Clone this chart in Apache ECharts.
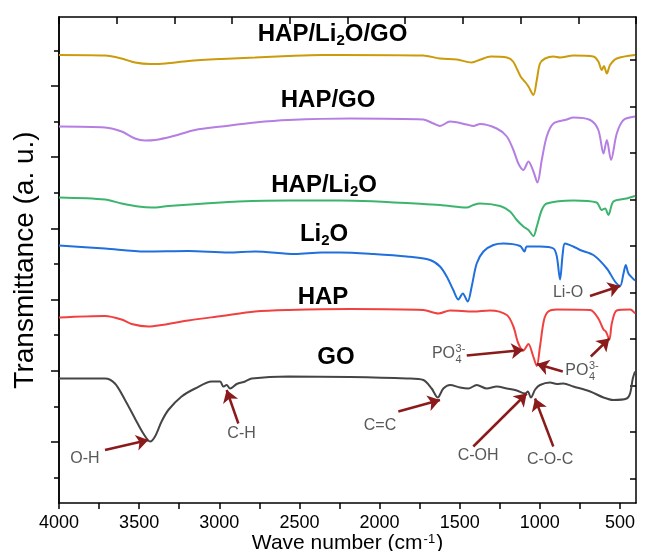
<!DOCTYPE html>
<html><head><meta charset="utf-8">
<script src="https://cdn.jsdelivr.net/npm/echarts@6/dist/echarts.min.js"></script>
<style>html,body{margin:0;padding:0;background:#fff}#c{width:649px;height:551px}</style>
</head><body><div id="c"></div>
<script>
// ---- tick labels (wave number, cm-1) ----
const xTickLabels = [4000, 3500, 3000, 2500, 2000, 1500, 1000, 500];
const xTicks = [4000, 3750, 3500, 3250, 3000, 2750, 2500, 2250, 2000, 1750, 1500, 1250, 1000, 750, 500];

// ---- spectra: [wave number, transmittance (a.u., offset)] ----
const hapLi2oGo = [[4000,89.6],[3713,89.5],[3609,88.9],[3526,88.1],[3429,87.8],[3335,87.9],[3192,88.4],[2985,88.8],[2777,89.1],[2571,89.4],[2361,89.6],[2247,89.6],[1729,89.5],[1623,88.9],[1518,88.7],[1425,88.1],[1370,88.7],[1307,89.3],[1206,89.1],[1167,88.3],[1120,85.3],[1089,84.1],[1071,83.3],[1040,81.6],[1019,84.6],[999,87.9],[967,88.9],[915,89.3],[874,89.1],[791,89.5],[666,89.3],[635,88.3],[614,86.6],[600,87.4],[582,85.9],[562,87.6],[520,88.9],[406,89.6]];
const hapGo = [[4000,75.3],[3713,75.1],[3609,74.3],[3526,72.9],[3463,72.5],[3401,72.6],[3297,73.3],[3151,74.6],[2985,75.3],[2777,76.1],[2569,76.6],[2184,76.9],[1727,76.7],[1664,75.9],[1623,75.4],[1560,76.3],[1456,75.7],[1415,75.4],[1373,75.8],[1269,74.9],[1206,73.3],[1165,70.6],[1134,67.9],[1103,66.6],[1071,68.3],[1040,66.3],[1015,64.1],[988,68.6],[957,73.3],[915,75.9],[832,76.7],[791,77.1],[686,76.6],[635,74.6],[603,69.9],[582,72.6],[556,68.6],[520,73.9],[478,76.6],[406,77.3]];
const hapLi2o = [[4000,61.1],[3713,60.7],[3609,59.9],[3505,59.3],[3422,59.1],[3318,59.4],[3089,59.9],[2880,60.3],[2569,60.5],[2247,60.5],[1623,59.6],[1456,59.1],[1415,59.6],[1373,59.9],[1248,59.4],[1186,58.3],[1144,56.6],[1103,55.3],[1071,54.6],[1040,53.4],[1019,55.3],[988,58.6],[957,59.9],[791,60.5],[646,60.1],[614,58.6],[593,58.9],[572,57.6],[541,60.3],[458,60.9],[406,61.4]];
const li2o = [[4000,51.5],[3713,50.9],[3463,50.3],[3193,50.4],[2943,50.1],[2777,50.3],[2527,49.8],[2361,50.1],[2247,50.1],[2039,49.8],[1830,49.3],[1685,48.6],[1623,47.3],[1581,45.3],[1540,42.6],[1508,40.7],[1481,41.9],[1450,40.3],[1425,43.3],[1394,47.9],[1352,50.3],[1290,51.6],[1227,51.9],[1123,51.4],[1096,50.3],[1081,51.3],[999,51.3],[915,50.9],[894,49.3],[874,44.7],[857,49.9],[843,51.9],[791,51.3],[749,50.6],[666,49.6],[582,46.9],[531,44.3],[499,43.4],[478,45.9],[464,47.6],[447,45.9],[406,44.5]];
const hap = [[4000,37.1],[3713,37.4],[3609,36.7],[3547,35.8],[3443,35.3],[3360,35.6],[3193,36.5],[2985,37.4],[2777,38.3],[2569,38.6],[2184,38.8],[1727,38.6],[1633,37.9],[1560,38.5],[1415,38.3],[1311,38.5],[1206,37.6],[1165,35.3],[1134,31.9],[1103,30.5],[1071,31.8],[1044,29.6],[1019,27.4],[999,31.3],[974,36.6],[947,38.3],[894,38.7],[686,38.6],[635,36.9],[603,34.7],[588,34.3],[566,32.7],[551,35.9],[520,38.5],[437,38.7],[406,37.9]];
const go = [[4000,24.9],[3713,24.9],[3651,23.9],[3588,20.6],[3526,16.9],[3474,13.9],[3432,12.3],[3401,13.3],[3360,16.3],[3318,18.6],[3235,21.3],[3151,22.9],[3047,24.3],[2995,24.3],[2975,23.3],[2954,23.6],[2933,22.9],[2891,23.8],[2839,24.3],[2797,24.9],[2569,25.3],[2184,25.2],[1830,24.9],[1727,24.6],[1675,22.9],[1637,21.1],[1602,22.9],[1560,23.6],[1498,23.1],[1446,22.9],[1394,23.6],[1331,22.9],[1269,23.3],[1206,22.9],[1144,22.5],[1092,21.9],[1075,22.3],[1056,21.1],[1029,22.7],[999,23.6],[936,24.1],[894,23.8],[853,23.9],[791,23.3],[686,22.3],[603,21.1],[541,20.6],[458,20.9],[437,21.9],[420,24.9],[406,26.3]];

const seriesNames = ['HAP/Li2O/GO', 'HAP/GO', 'HAP/Li2O', 'Li2O', 'HAP', 'GO'];
const seriesData = [hapLi2oGo, hapGo, hapLi2o, li2o, hap, go];
const seriesColors = ['#CB9B0C', '#B57EE3', '#3CB46E', '#1F6FDD', '#F0403F', '#454545'];
// curve titles (rich text, subscript 2) and their anchor [wave number, a.u.]
const curveTitles = ['HAP/Li{s|2}O/GO', 'HAP/GO', 'HAP/Li{s|2}O', 'Li{s|2}O', 'HAP', 'GO'];
const curveTitleAt = [[2293,93.8],[2321,80.6],[2346,63.6],[2346,53.8],[2353,41.2],[2272,29.2]];

// band assignments: label text, label anchor, arrow from -> to
const bandLabels = [
  {text:'O-H', at:[3838,8.8]},
  {text:'C-H', at:[2861,13.9]},
  {text:'C=C', at:[1997,15.4]},
  {text:'C-OH', at:[1385,9.4]},
  {text:'C-O-C', at:[936,8.6]},
  {text:'Li-O', at:[824,42.1]}
];
const poLabels = [[1529,29.8],[697,26.4]];
const arrows = [
  [[3713,10.6],[3443,12.6]],
  [[2881,15.9],[2954,22.6]],
  [[1883,18.3],[1623,20.6]],
  [[1415,11.3],[1082,21.9]],
  [[916,11.3],[1030,20.9]],
  [[1456,29.5],[1103,30.6]],
  [[857,26.3],[1019,27.8]],
  [[682,29.3],[566,32.9]],
  [[687,41.4],[499,43.4]]
];

const Y_MAX = 97.2;
const leftMajor = [], leftMinor = [], rightTicks = [];
for (let i = 0; i < 6; i++) leftMajor.push(12.2 + 14.24 * i);
for (let i = 0; i < 7; i++) leftMinor.push(5.08 + 14.24 * i);
for (let i = 0; i < 10; i++) rightTicks.push(88.6 - 9.3 * i);

const FONT = '"Liberation Sans", Arial, Helvetica, sans-serif';
const axisLine = {show: true, onZero: false, lineStyle: {color: '#000', width: 1.5}};

const chart = echarts.init(document.getElementById('c'), null, {renderer: 'canvas'});
const series = seriesData.map((d, i) => ({
  name: seriesNames[i], type: 'line', data: d, xAxisIndex: 0, yAxisIndex: 0,
  showSymbol: false, smooth: 0.3, silent: true,
  lineStyle: {color: seriesColors[i], width: 2}, itemStyle: {color: seriesColors[i]}, z: 3
}));
series[5].markLine = {
  silent: true, symbol: ['none', 'arrow'], symbolSize: 12, animation: false,
  label: {show: false}, emphasis: {disabled: true},
  lineStyle: {color: '#8B1A1A', width: 2.5, type: 'solid'},
  data: arrows.map(a => [{coord: a[0]}, {coord: a[1]}])
};

chart.setOption({
  animation: false,
  backgroundColor: '#fff',
  grid: {left: 59, right: 13, top: 17, bottom: 48, containLabel: false, outerBoundsMode: 'none'},
  xAxis: [{
    type: 'value', position: 'bottom', min: 400, max: 4000, inverse: true,
    axisLine: axisLine, splitLine: {show: false},
    axisTick: {show: true, inside: false, length: 6, customValues: xTicks, lineStyle: {color: '#000', width: 1.5}},
    axisLabel: {show: true, customValues: xTickLabels, formatter: v => String(v), fontSize: 18, color: '#000', fontFamily: FONT, margin: 11},
    name: 'Wave number (cm{sup|-1})', nameLocation: 'middle', nameGap: 30, nameMoveOverlap: false,
    nameTextStyle: {fontSize: 21, color: '#000', fontFamily: FONT,
      rich: {sup: {fontSize: 13, color: '#000', fontFamily: FONT, verticalAlign: 'top', padding: [0, 1, 6, 1]}}}
  }, {
    type: 'value', position: 'top', min: 0, max: 10, interval: 1,
    axisLine: axisLine, splitLine: {show: false},
    axisTick: {show: true, inside: true, length: 7, lineStyle: {color: '#000', width: 1.5}},
    axisLabel: {show: false}
  }],
  yAxis: [{
    type: 'value', position: 'left', min: 0, max: Y_MAX,
    axisLine: axisLine, splitLine: {show: false},
    axisTick: {show: true, inside: false, length: 8, customValues: leftMajor, lineStyle: {color: '#000', width: 1.5}},
    axisLabel: {show: false},
    name: 'Transmittance (a. u.)', nameLocation: 'middle', nameGap: 20, nameMoveOverlap: false,
    nameTextStyle: {fontSize: 28, color: '#000', fontFamily: FONT}
  }, {
    type: 'value', position: 'left', min: 0, max: Y_MAX,
    axisLine: axisLine, splitLine: {show: false},
    axisTick: {show: true, inside: false, length: 5, customValues: leftMinor, lineStyle: {color: '#000', width: 1.5}},
    axisLabel: {show: false}
  }, {
    type: 'value', position: 'right', min: 0, max: Y_MAX,
    axisLine: axisLine, splitLine: {show: false},
    axisTick: {show: true, inside: true, length: 6, customValues: rightTicks, lineStyle: {color: '#000', width: 1.5}},
    axisLabel: {show: false}
  }],
  series: series
});

// text annotations placed through the chart's own coordinate conversion
const px = p => chart.convertToPixel({xAxisIndex: 0, yAxisIndex: 0}, p);
const graphics = [];
curveTitles.forEach((t, i) => {
  const p = px(curveTitleAt[i]);
  graphics.push({type: 'text', x: p[0], y: p[1], z: 10, silent: true, style: {
    text: t, fill: '#000', font: 'bold 24px ' + FONT, align: 'center', verticalAlign: 'middle',
    rich: {s: {fontSize: 15, fontWeight: 'bold', fontFamily: FONT, fill: '#000', verticalAlign: 'bottom', padding: [14, 0, 0, 0]}}
  }});
});
bandLabels.forEach(b => {
  const p = px(b.at);
  graphics.push({type: 'text', x: p[0], y: p[1], z: 10, silent: true, style: {
    text: b.text, fill: '#585858', font: '16px ' + FONT, align: 'center', verticalAlign: 'middle'}});
});
poLabels.forEach(a => {
  const p = px(a);
  graphics.push({type: 'text', x: p[0], y: p[1], z: 10, silent: true, style: {
    text: 'PO', fill: '#585858', font: '16px ' + FONT, align: 'right', verticalAlign: 'middle'}});
  graphics.push({type: 'text', x: p[0] + 0.5, y: p[1] + 0.5, z: 10, silent: true, style: {
    text: '3-\n4', fill: '#585858', font: '11px ' + FONT, lineHeight: 11, align: 'left', verticalAlign: 'middle'}});
});
chart.setOption({graphic: graphics});
</script></body></html>
